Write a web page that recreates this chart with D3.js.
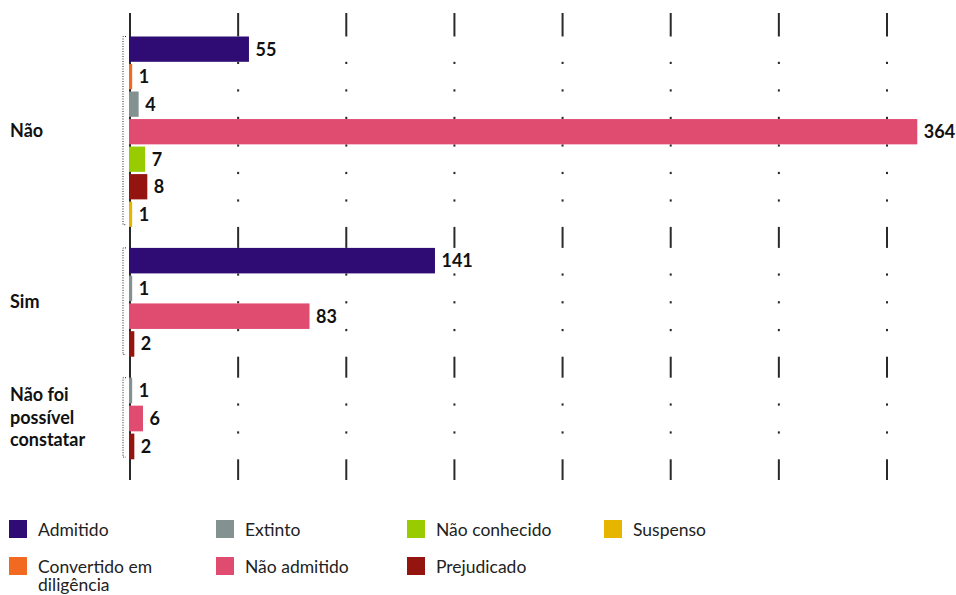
<!DOCTYPE html>
<html><head><meta charset="utf-8">
<script src="https://cdn.jsdelivr.net/npm/d3@7"></script>
<style>
html,body{margin:0;padding:0;background:#fff;}
svg{display:block;font-family:Lato, "Open Sans", sans-serif;}
</style></head>
<body>
<svg id="chart" width="956" height="595"></svg>
<script>
// ---- data ----
const categories = ["Não", "Sim", "Não foi possível constatar"];
const categoryLines = [["Não"], ["Sim"], ["Não foi", "possível", "constatar"]];
const seriesNames = ["Admitido", "Convertido em diligência", "Extinto", "Não admitido", "Não conhecido", "Prejudicado", "Suspenso"];
const seriesColors = ["#2e0c73", "#f26a22", "#849191", "#e04b70", "#99cc00", "#94150f", "#e5b500"];
// values per category, in series order (null = no bar)
const valuesNao = [55, 1, 4, 364, 7, 8, 1];
const valuesSim = [141, null, 1, 83, null, 2, null];
const valuesNaoFoi = [null, null, 1, 6, null, 2, null];
const tickValues = [0, 50, 100, 150, 200, 250, 300, 350];

const allValues = [valuesNao, valuesSim, valuesNaoFoi];

// ---- layout ----
const svg = d3.select("#chart");
const x = d3.scaleLinear().domain([0, 350]).range([130, 887]);
const rowPitch = 27.2, barH = 25, groupGap = 21, top0 = 36.5;

const groups = [];
let yCur = top0;
categories.forEach((c, gi) => {
  const rows = seriesNames.map((s, si) => ({series: s, si, value: allValues[gi][si]}))
    .filter(r => r.value !== null);
  const h = rows.length * rowPitch;
  const band = d3.scaleBand().domain(rows.map(r => r.series)).range([yCur, yCur + h]).paddingInner((rowPitch - barH) / rowPitch).paddingOuter(0);
  groups.push({cat: c, gi, rows, y0: yCur, y1: yCur + h - (rowPitch - barH), band});
  yCur += h + groupGap;
});
const gridTop = 13, gridBottom = groups[groups.length - 1].y1 + 23;

// gridlines
svg.append("g").selectAll("line").data(tickValues).join("line")
  .attr("x1", d => x(d)).attr("x2", d => x(d))
  .attr("y1", gridTop).attr("y2", gridBottom)
  .attr("stroke", "#2a2a2a").attr("stroke-width", 2);

// row masks + bars
groups.forEach(g => {
  const gg = svg.append("g");
  gg.selectAll("rect.mask").data(g.rows).join("rect").attr("class", "mask")
    .attr("x", x(0) + 1.5).attr("width", 956 - x(0))
    .attr("y", d => g.band(d.series)).attr("height", g.band.bandwidth())
    .attr("fill", "#fff");
  gg.selectAll("rect.bar").data(g.rows).join("rect").attr("class", "bar")
    .attr("x", x(0) - 1).attr("width", d => x(d.value) - x(0) + 1)
    .attr("y", d => g.band(d.series)).attr("height", g.band.bandwidth())
    .attr("fill", d => seriesColors[d.si]);
  gg.selectAll("text.val").data(g.rows).join("text").attr("class", "val")
    .attr("x", d => x(d.value) + 6.5)
    .attr("y", d => g.band(d.series) + g.band.bandwidth() / 2)
    .attr("dy", "0.36em")
    .attr("font-size", 18).attr("font-weight", 700).attr("fill", "#111")
    .text(d => d.value);
  // dotted bracket
  const bx = 123;
  gg.append("path")
    .attr("d", `M${bx + 3},${g.y0} H${bx} V${g.y1} H${bx + 3}`)
    .attr("fill", "none").attr("stroke", "#222").attr("stroke-width", 1)
    .attr("stroke-dasharray", "1,1.5");
  // category label
  const lines = categoryLines[g.gi];
  const lh = 22.5;
  const cy = (g.y0 + g.y1) / 2;
  const t = gg.append("text").attr("x", 10).attr("font-size", 18).attr("font-weight", 700).attr("fill", "#111");
  lines.forEach((l, i) => {
    t.append("tspan").attr("x", 10)
      .attr("y", cy + (i - (lines.length - 1) / 2) * lh)
      .attr("dy", "0.36em").text(l);
  });
});

// legend
const legendCols = [9, 216, 407, 604];
const legendRows = [520, 557];
const legendLines = [["Admitido"], ["Convertido em", "diligência"], ["Extinto"], ["Não admitido"], ["Não conhecido"], ["Prejudicado"], ["Suspenso"]];
const lg = svg.append("g");
seriesNames.forEach((s, i) => {
  const col = Math.floor(i / 2), row = i % 2;
  const gx = legendCols[col], gy = legendRows[row];
  lg.append("rect").attr("x", gx).attr("y", gy).attr("width", 18).attr("height", 18).attr("fill", seriesColors[i]);
  const t = lg.append("text").attr("font-size", 17.5).attr("fill", "#222");
  legendLines[i].forEach((l, k) => {
    t.append("tspan").attr("x", gx + 29).attr("y", gy + 16 + k * 18).text(l);
  });
});
</script>
</body></html>
